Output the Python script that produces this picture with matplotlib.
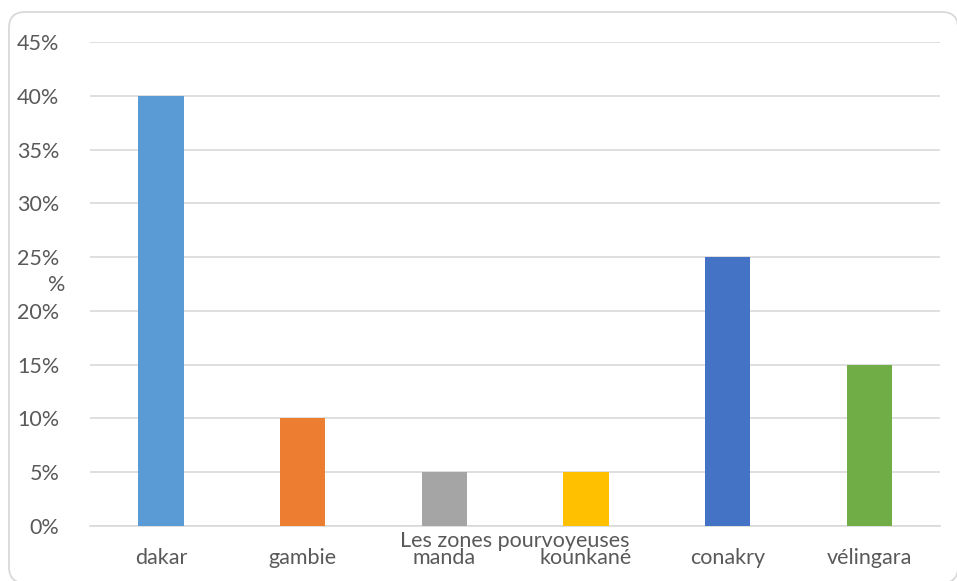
import matplotlib
matplotlib.use("Agg")
import matplotlib.pyplot as plt
from matplotlib.patches import FancyBboxPatch
from matplotlib.ticker import FuncFormatter, MultipleLocator

zones = ["dakar", "gambie", "manda", "kounkané", "conakry", "vélingara"]
shares = [0.40, 0.10, 0.05, 0.05, 0.25, 0.15]
colors = ["#5B9BD5", "#ED7D31", "#A5A5A5", "#FFC000", "#4472C4", "#70AD47"]

plt.rcParams["font.family"] = ["Lato", "DejaVu Sans"]
text_color = "#595959"
grid_color = "#D9D9D9"
fsize = 15.5

fig = plt.figure(figsize=(9.57, 5.81), dpi=100)
ax = fig.add_axes([90 / 957, 1 - 526 / 581, 850 / 957, 484 / 581])

x = range(len(zones))
ax.bar(x, shares, width=0.32, color=colors, zorder=3)

ax.set_xlim(-0.5, len(zones) - 0.5)
ax.set_ylim(0, 0.45)
ax.yaxis.set_major_locator(MultipleLocator(0.05))
ax.yaxis.set_major_formatter(FuncFormatter(lambda v, p: f"{round(v * 100)}%"))
ax.set_xticks(list(x))
ax.set_xticklabels(zones)

ax.grid(axis="y", color=grid_color, linewidth=1.2, zorder=0)
for s in ["top", "right", "left"]:
    ax.spines[s].set_visible(False)
ax.spines["bottom"].set_color(grid_color)
ax.spines["bottom"].set_linewidth(1.2)
ax.tick_params(axis="both", length=0, labelsize=fsize, labelcolor=text_color)
ax.tick_params(axis="y", pad=22)
ax.tick_params(axis="x", pad=16)

ax.text(0.5, -0.031, "Les zones pourvoyeuses", transform=ax.transAxes,
        ha="center", va="center", fontsize=fsize, color=text_color)
ax.text(-0.039, 0.498, "%", transform=ax.transAxes,
        ha="center", va="center", fontsize=fsize, color=text_color)

# rounded chart-area frame (inch coordinates)
frame = FancyBboxPatch((0.09, -0.02), 9.49, 5.71,
                       boxstyle="round,pad=0,rounding_size=0.16",
                       transform=fig.dpi_scale_trans, fill=False,
                       edgecolor=grid_color, linewidth=1.3, clip_on=False)
fig.patches.append(frame)

fig.savefig("out.png", dpi=100)
